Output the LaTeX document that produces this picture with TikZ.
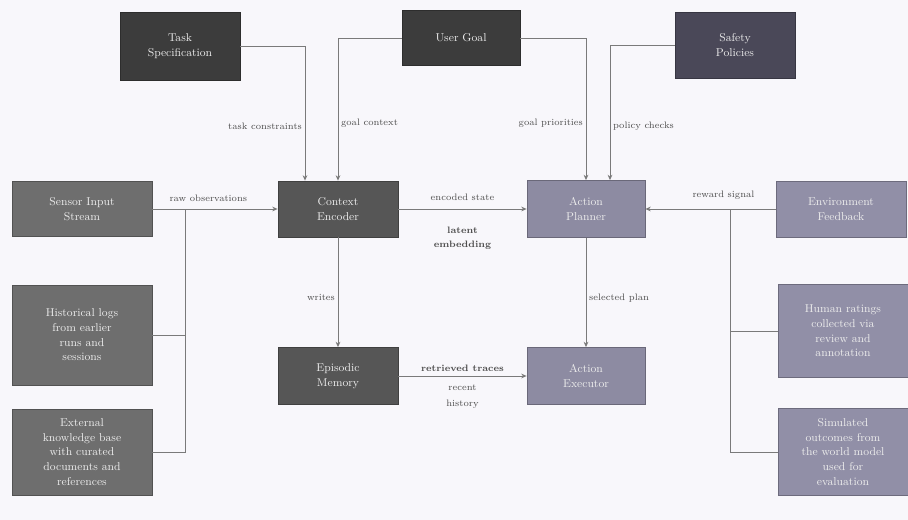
\documentclass[tikz,border=0pt]{standalone}
\usepackage{tikz}
\usetikzlibrary{arrows.meta}

\definecolor{paper}{HTML}{F8F7FB}
\definecolor{inkdark}{HTML}{3C3C3C}
\definecolor{inkplum}{HTML}{4A4858}
\definecolor{inkmid}{HTML}{565656}
\definecolor{inkgrey}{HTML}{6E6E6E}
\definecolor{inklav}{HTML}{8D8BA2}
\definecolor{inklavlight}{HTML}{918FA7}
\definecolor{boxtext}{HTML}{ECECEC}
\definecolor{wire}{HTML}{7A7A7A}
\definecolor{labeltext}{HTML}{4E4E4E}

\tikzset{
  box/.style={draw=#1!75!black, line width=0.6pt, fill=#1, text=boxtext, align=center,
    inner sep=2pt, font=\fontsize{8.5}{11}\selectfont},
  link/.style={draw=wire, line width=0.6pt, -{Stealth[length=4pt,width=3.5pt]}},
  merge/.style={draw=wire, line width=0.6pt},
  elabel/.style={text=labeltext, font=\fontsize{7}{9}\selectfont, align=center, inner sep=2pt}
}

\begin{document}
\begin{tikzpicture}[x=0.75pt,y=-0.75pt]
\useasboundingbox[fill=paper] (0,0) rectangle (908,520);

% top row
\node[box=inkdark, minimum width=90pt, minimum height=51pt] (task) at (180,46) {Task\\Specification};
\node[box=inkdark, minimum width=88.5pt, minimum height=41pt] (goal) at (461,38) {User Goal};
\node[box=inkplum, minimum width=90pt, minimum height=49.5pt] (policy) at (735,45) {Safety\\Policies};

% middle row
\node[box=inkgrey, minimum width=105pt, minimum height=41pt] (sensor) at (82,209) {Sensor Input\\Stream};
\node[box=inkmid, minimum width=90pt, minimum height=42pt] (encoder) at (338,209) {Context\\Encoder};
\node[box=inklav, minimum width=88.5pt, minimum height=42.75pt] (planner) at (586,209) {Action\\Planner};
\node[box=inklavlight, minimum width=97.5pt, minimum height=42pt] (envfb) at (841,209) {Environment\\Feedback};

% left sources
\node[box=inkgrey, minimum width=105pt, minimum height=75pt] (logs) at (82,335) {Historical logs\\from earlier\\runs and\\sessions};
\node[box=inkgrey, minimum width=105pt, minimum height=64.5pt] (kbase) at (82,452) {External\\knowledge base\\with curated\\documents and\\references};

% bottom row
\node[box=inkmid, minimum width=90pt, minimum height=42.75pt] (memory) at (338,376) {Episodic\\Memory};
\node[box=inklav, minimum width=88.5pt, minimum height=42.75pt] (executor) at (586,376) {Action\\Executor};

% right sources
\node[box=inklavlight, minimum width=97.5pt, minimum height=69.75pt] (ratings) at (843,331) {Human ratings\\collected via\\review and\\annotation};
\node[box=inklavlight, minimum width=97.5pt, minimum height=65.25pt] (simout) at (843,452) {Simulated\\outcomes from\\the world model\\used for\\evaluation};

\coordinate (ljoin) at (185,209);
\coordinate (rjoin) at (730,209);

% connectors from the top
\draw[link] (task.east) -| ([xshift=-24.75pt]encoder.north) node[elabel, pos=0.8, left] {task constraints};
\draw[link] (goal.west) -| (encoder.north) node[elabel, pos=0.8, right] {goal context};
\draw[link] (goal.east) -| (planner.north) node[elabel, pos=0.8, left] {goal priorities};
\draw[link] (policy.west) -| ([xshift=18pt]planner.north) node[elabel, pos=0.8, right] {policy checks};

% inputs on the sides
\draw[link] (sensor) -- (encoder) node[elabel, midway, above=3pt, xshift=-5pt] {raw observations};
\draw[merge] (logs.east) -| (ljoin);
\draw[merge] (kbase.east) -| (ljoin);
\draw[link] (envfb) -- (planner) node[elabel, pos=0.4, above=5pt] {reward signal};
\draw[merge] (ratings.west) -| (rjoin);
\draw[merge] (simout.west) -| (rjoin);

% core flow
\draw[link] (encoder) -- (planner) node[elabel, midway, above=4pt] {encoded state}
  node[elabel, midway, below=11pt, font=\bfseries\fontsize{7}{11}\selectfont] {latent\\embedding};
\draw[link] (encoder) -- (memory) node[elabel, pos=0.55, left] {writes};
\draw[link] (planner) -- (executor) node[elabel, pos=0.55, right] {selected plan};
\draw[link] (memory) -- (executor) node[elabel, midway, above=1pt, font=\bfseries\fontsize{7}{9}\selectfont] {retrieved traces}
  node[elabel, midway, below=4pt, font=\fontsize{7}{12}\selectfont] {recent\\history};
\end{tikzpicture}
\end{document}
